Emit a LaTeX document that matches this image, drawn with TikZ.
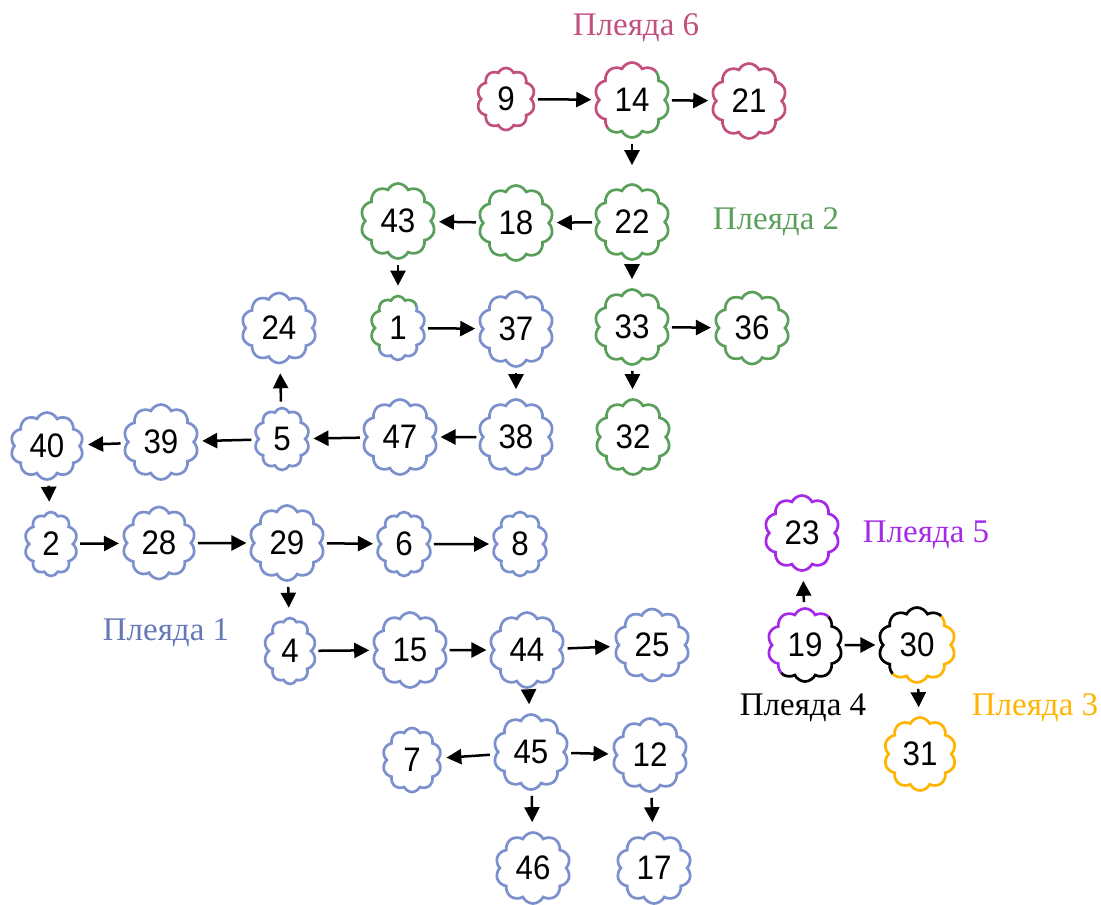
\documentclass[tikz,border=0pt]{standalone}
\usepackage{fontspec}
\setmainfont{Liberation Serif}
\newfontfamily\labf{Liberation Serif}
\newfontfamily\numf[FakeStretch=0.92]{Liberation Sans}
\usetikzlibrary{shapes.symbols,arrows.meta}
\definecolor{pinkc}{HTML}{C2507F}
\definecolor{greenc}{HTML}{5A9F5A}
\definecolor{bluec}{HTML}{7B90CC}
\definecolor{bluelab}{HTML}{6479B5}
\definecolor{purplec}{HTML}{A52AE8}
\definecolor{orangec}{HTML}{FFB400}
\tikzset{
  cl/.style={cloud, cloud puffs=10, cloud puff arc=130, cloud ignores aspect,
    line width=2.7pt, inner sep=0pt, fill=white,
    font=\numf\fontsize{34}{36}\selectfont},
  big/.style={cl, minimum width=75pt, minimum height=75pt},
  small/.style={cl, minimum width=55pt, minimum height=64pt},
  ar/.style={-{Triangle[length=15pt,width=15pt]}, line width=2.5pt,
    shorten <=5pt, shorten >=6pt},
  va/.style={ar, shorten >=9pt},
  lab/.style={anchor=base, inner sep=0pt, font=\labf\fontsize{33}{36}\selectfont}
}
% two-coloured outline: #1 node, #2 shape options, #3 upper-left colour, #4 lower-right colour
\newcommand{\twotone}[4]{%
  \begin{scope}[shift={(#1.center)}, rotate=50]
    \clip (-70,0) rectangle (70,70);
    \node[#2, draw=#3, fill=none] at (0,0) {};
  \end{scope}
  \begin{scope}[shift={(#1.center)}, rotate=50]
    \clip (-70,0) rectangle (70,-70);
    \node[#2, draw=#4, fill=none] at (0,0) {};
  \end{scope}}
\begin{document}
\begin{tikzpicture}[x=1pt,y=1pt]
\useasboundingbox (0,0) rectangle (1101,-905);
% Pleiad 6
\node[small, draw=pinkc, minimum width=58pt, minimum height=62pt] (n9) at (506,-99) {9};
\node[big, draw=none] (n14) at (632,-100) {14};
\twotone{n14}{big}{pinkc}{greenc}
\node[big, draw=pinkc] (n21) at (749,-101) {21};
% Pleiad 2
\node[big, draw=greenc] (n22) at (632,-222) {22};
\node[big, draw=greenc] (n18) at (516,-223) {18};
\node[big, draw=greenc] (n43) at (398,-221) {43};
\node[small, draw=none] (n1) at (398,-328) {1};
\twotone{n1}{small}{greenc}{bluec}
\node[big, draw=greenc] (n33) at (632,-327) {33};
\node[big, draw=greenc, minimum height=72pt] (n36) at (752,-328) {36};
\node[big, draw=greenc] (n32) at (633,-437) {32};
% Pleiad 1
\node[big, draw=bluec] (n37) at (516,-329) {37};
\node[big, draw=bluec, minimum height=70pt] (n24) at (279,-328) {24};
\node[small, draw=bluec, minimum height=62pt] (n5) at (282,-439) {5};
\node[big, draw=bluec] (n47) at (400,-437) {47};
\node[big, draw=bluec] (n38) at (516,-437) {38};
\node[big, draw=bluec] (n39) at (161,-442) {39};
\node[big, draw=bluec, minimum width=73pt, minimum height=67pt] (n40) at (47,-446) {40};
\node[small, draw=bluec, minimum width=53pt] (n2) at (51,-544) {2};
\node[big, draw=bluec, minimum width=73pt, minimum height=72pt] (n28) at (159,-543) {28};
\node[big, draw=bluec] (n29) at (287,-543) {29};
\node[small, draw=bluec] (n6) at (404,-544) {6};
\node[small, draw=bluec] (n8) at (520,-544) {8};
\node[small, draw=bluec, minimum width=52pt, minimum height=66pt] (n4) at (290,-651) {4};
\node[big, draw=bluec] (n15) at (410,-650) {15};
\node[big, draw=bluec] (n44) at (527,-650) {44};
\node[big, draw=bluec, minimum height=72pt] (n25) at (652,-645) {25};
\node[big, draw=bluec] (n45) at (531,-752) {45};
\node[small, draw=bluec, minimum width=59pt] (n7) at (412,-760) {7};
\node[big, draw=bluec, minimum height=73pt] (n12) at (650,-755) {12};
\node[big, draw=bluec, minimum height=71pt] (n46) at (533,-868) {46};
\node[big, draw=bluec, minimum height=71pt] (n17) at (654,-868) {17};
% Pleiads 3,4,5
\node[big, draw=purplec] (n23) at (802,-533) {23};
\node[big, draw=none, minimum height=73pt] (n19) at (805,-645) {19};
\twotone{n19}{big, minimum height=73pt}{purplec}{black}
\node[big, draw=none, minimum width=77pt] (n30) at (917,-645) {30};
\twotone{n30}{big, minimum width=77pt}{black}{orangec}
\node[big, draw=orangec, minimum width=72pt, minimum height=73pt] (n31) at (920,-754) {31};
% labels
\node[lab, text=pinkc] (l6) at (636,-35) {Плеяда 6};
\node[lab, text=greenc] (l2) at (776,-229) {Плеяда 2};
\node[lab, text=bluelab] (l1) at (166,-640) {Плеяда 1};
\node[lab, text=purplec] (l5) at (926,-542) {Плеяда 5};
\node[lab, text=black] (l4) at (803,-715) {Плеяда 4};
\node[lab, text=orangec] (l3) at (1035,-715) {Плеяда 3};
% arrows
\draw[ar] (n9) -- (n14);
\draw[ar] (n14) -- (n21);
\draw[va, shorten >=18pt] (n14) -- (n22);
\draw[ar] (n22) -- (n18);
\draw[ar] (n18) -- (n43);
\draw[va] (n43) -- (n1);
\draw[ar] (n1) -- (n37);
\draw[va] (n37) -- (n38);
\draw[va] (n22) -- (n33);
\draw[ar] (n33) -- (n36);
\draw[va] (n33) -- (n32);
\draw[ar] (n38) -- (n47);
\draw[ar] (n47) -- (n5);
\draw[va] (n5) -- (n24);
\draw[ar] (n5) -- (n39);
\draw[ar] (n39) -- (n40);
\draw[va] (n40) -- (n2);
\draw[ar] (n2) -- (n28);
\draw[ar] (n28) -- (n29);
\draw[ar] (n29) -- (n6);
\draw[ar] (n6) -- (n8);
\draw[va] (n29) -- (n4);
\draw[ar] (n4) -- (n15);
\draw[ar] (n15) -- (n44);
\draw[ar] (n44) -- (n25);
\draw[va] (n44) -- (n45);
\draw[ar] (n45) -- (n7);
\draw[ar] (n45) -- (n12);
\draw[va] (n45) -- (n46);
\draw[va] (n12) -- (n17);
\draw[va] (n19) -- (n23);
\draw[ar] (n19) -- (n30);
\draw[va] (n30) -- (n31);
\end{tikzpicture}
\end{document}
